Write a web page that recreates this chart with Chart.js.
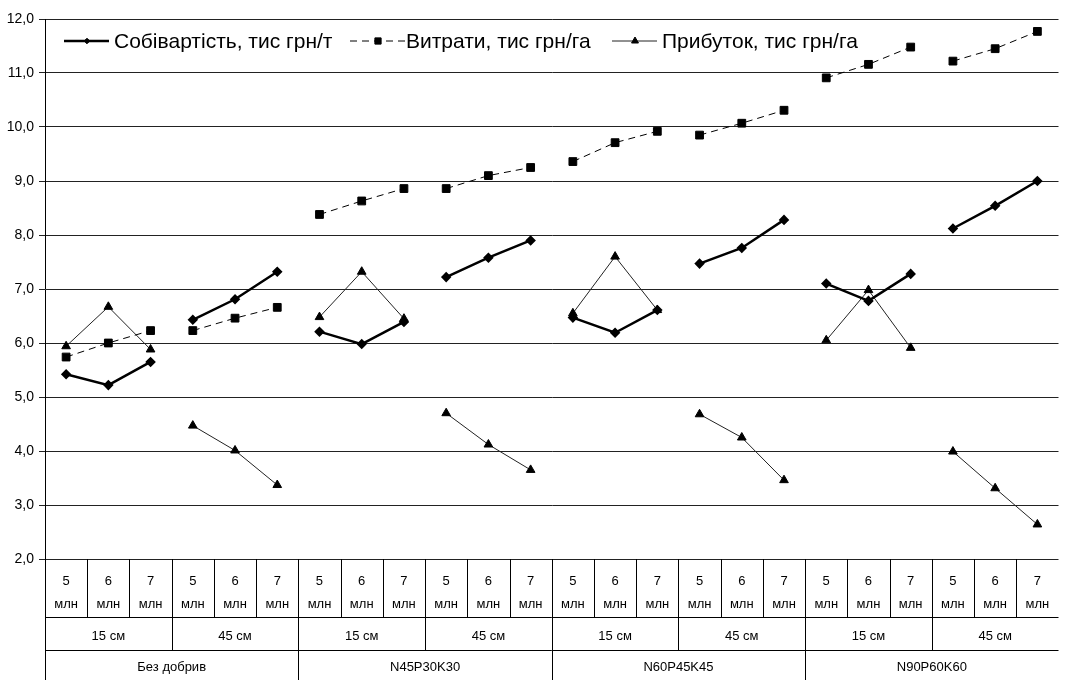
<!DOCTYPE html>
<html>
<head>
<meta charset="utf-8">
<script src="https://cdn.jsdelivr.net/npm/chart.js@4.4.1/dist/chart.umd.min.js"></script>
<style>
  html, body { margin: 0; padding: 0; background: #fff; }
  #wrap { width: 1065px; height: 680px; }
</style>
</head>
<body>
<div id="wrap"><canvas id="chart" width="1065" height="680"></canvas></div>
<script>
// chart data
const densities = ['5', '6', '7'];
const spacings = ['15 см', '45 см'];
const fertilizers = ['Без добрив', 'N45P30K30', 'N60P45K45', 'N90P60K60'];
const yTicks = [2, 3, 4, 5, 6, 7, 8, 9, 10, 11, 12];

const costValues = [5.42, 5.22, 5.65, 6.43, 6.81, 7.32, 6.21, 5.98, 6.39, 7.22, 7.58, 7.90,
                    6.47, 6.19, 6.61, 7.47, 7.76, 8.28, 7.10, 6.78, 7.28, 8.12, 8.54, 9.00];
const expenseValues = [5.74, 6.00, 6.23, 6.23, 6.46, 6.66, 8.38, 8.63, 8.86, 8.86, 9.10, 9.25,
                       9.36, 9.71, 9.92, 9.85, 10.07, 10.31, 10.91, 11.16, 11.48, 11.22, 11.45, 11.77];
const profitValues = [5.94, 6.67, 5.88, 4.47, 4.01, 3.37, 6.48, 7.32, 6.45, 4.70, 4.12, 3.65,
                      6.55, 7.60, 6.61, 4.68, 4.25, 3.46, 6.05, 6.98, 5.91, 3.99, 3.31, 2.64];

// build the three label rows
let categories = [];
let spacingRow = [];
fertilizers.forEach(function () {
    spacings.forEach(function (s) {
        spacingRow.push(s);
        densities.forEach(function (d) {
            categories.push([d, 'млн']);
        });
    });
});

const FONT = "'Liberation Sans', Arial, sans-serif";

// break every line between groups of three
const gapSegment = {
    borderColor: ctx => (ctx.p0DataIndex % 3 === 2 ? 'rgba(0,0,0,0)' : undefined)
};

// table under the plot
const tablePlugin = {
    id: 'table',
    afterDraw(chart) {
        const ctx = chart.ctx;
        const xs = chart.scales.x;
        const x2 = chart.scales.x2;
        const x3 = chart.scales.x3;
        const w = xs.width / categories.length;
        const px = v => Math.round(v) + 0.5;
        ctx.save();
        ctx.strokeStyle = '#000';
        ctx.lineWidth = 1;
        ctx.beginPath();
        [xs.bottom, x2.bottom].forEach(function (y) {
            ctx.moveTo(xs.left, px(y));
            ctx.lineTo(xs.right, px(y));
        });
        for (let k = 0; k < categories.length; k++) {
            const x = px(xs.left + k * w);
            ctx.moveTo(x, xs.top);
            ctx.lineTo(x, xs.bottom);
            if (k % 3 === 0) {
                ctx.moveTo(x, x2.top);
                ctx.lineTo(x, x2.bottom);
            }
            if (k % 6 === 0) {
                ctx.moveTo(x, x3.top);
                ctx.lineTo(x, x3.bottom);
            }
        }
        ctx.stroke();
        ctx.restore();
    }
};

// legend drawn inside the plot, excel style (line with marker)
const legendPlugin = {
    id: 'insideLegend',
    afterDraw(chart) {
        const ctx = chart.ctx;
        const starts = [64, 350, 612];
        const y = 41;
        ctx.save();
        ctx.font = '21px ' + FONT;
        ctx.textBaseline = 'middle';
        chart.data.datasets.forEach(function (ds, i) {
            const x = starts[i];
            const len = ds.borderDash ? 55 : 45;
            ctx.strokeStyle = ds.borderColor;
            ctx.lineWidth = ds.borderWidth;
            ctx.setLineDash(ds.borderDash || []);
            ctx.beginPath();
            ctx.moveTo(x, y);
            ctx.lineTo(x + len, y);
            ctx.stroke();
            ctx.setLineDash([]);
            ctx.fillStyle = ds.pointBackgroundColor;
            ctx.strokeStyle = ds.pointBorderColor;
            ctx.lineWidth = 1;
            Chart.helpers.drawPoint(ctx, {
                pointStyle: ds.pointStyle,
                radius: ds.pointRadius * 0.8,
                borderWidth: 1,
                rotation: 0
            }, x + Math.round(len / 2), y);
            ctx.fillStyle = '#000';
            ctx.fillText(ds.label, x + len + (ds.borderDash ? 1 : 5), y + 1);
        });
        ctx.restore();
    }
};

new Chart(document.getElementById('chart').getContext('2d'), {
    type: 'line',
    data: {
        labels: categories,
        datasets: [{
            label: 'Собівартість, тис грн/т',
            data: costValues,
            borderColor: '#000',
            borderWidth: 2.5,
            pointStyle: 'rectRot',
            pointRadius: 3.5,
            pointBackgroundColor: '#000',
            pointBorderColor: '#000',
            segment: gapSegment
        }, {
            label: 'Витрати, тис грн/га',
            data: expenseValues,
            borderColor: '#000',
            borderWidth: 1,
            borderDash: [7, 5],
            pointStyle: 'rect',
            pointRadius: 5.5,
            pointBackgroundColor: '#000',
            pointBorderColor: '#000',
            segment: gapSegment
        }, {
            label: 'Прибуток, тис грн/га',
            data: profitValues,
            borderColor: '#222',
            borderWidth: 1,
            pointStyle: 'triangle',
            pointRadius: 5,
            pointBackgroundColor: '#000',
            pointBorderColor: '#000',
            segment: gapSegment
        }]
    },
    options: {
        responsive: false,
        animation: false,
        layout: { padding: { top: 19, right: 3, left: 0, bottom: 0 } },
        plugins: {
            legend: { display: false },
            tooltip: { enabled: false }
        },
        scales: {
            y: {
                min: yTicks[0],
                max: yTicks[yTicks.length - 1],
                afterFit: s => { s.width = 45; },
                ticks: {
                    stepSize: 1,
                    padding: 5,
                    color: '#000',
                    font: { family: FONT, size: 14 },
                    callback: v => v.toFixed(1).replace('.', ',')
                },
                grid: { color: '#222', lineWidth: 1, tickLength: 6 },
                border: { display: true, color: '#000' }
            },
            x: {
                offset: true,
                weight: 0,
                afterFit: s => { s.height = 58; },
                grid: { display: false },
                border: { display: false },
                ticks: {
                    autoSkip: false,
                    maxRotation: 0,
                    padding: 3,
                    color: '#000',
                    font: { family: FONT, size: 13, lineHeight: 1.77 }
                }
            },
            x2: {
                type: 'category',
                position: 'bottom',
                labels: spacingRow,
                offset: true,
                weight: 1,
                afterFit: s => { s.height = 33; },
                grid: { display: false },
                border: { display: false },
                ticks: {
                    autoSkip: false,
                    maxRotation: 0,
                    padding: 4,
                    color: '#000',
                    font: { family: FONT, size: 13 }
                }
            },
            x3: {
                type: 'category',
                position: 'bottom',
                labels: fertilizers,
                offset: true,
                weight: 2,
                afterFit: s => { s.height = 30; },
                grid: { display: false },
                border: { display: false },
                ticks: {
                    autoSkip: false,
                    maxRotation: 0,
                    padding: 2,
                    color: '#000',
                    font: { family: FONT, size: 13 }
                }
            }
        }
    },
    plugins: [tablePlugin, legendPlugin]
});
</script>
</body>
</html>
